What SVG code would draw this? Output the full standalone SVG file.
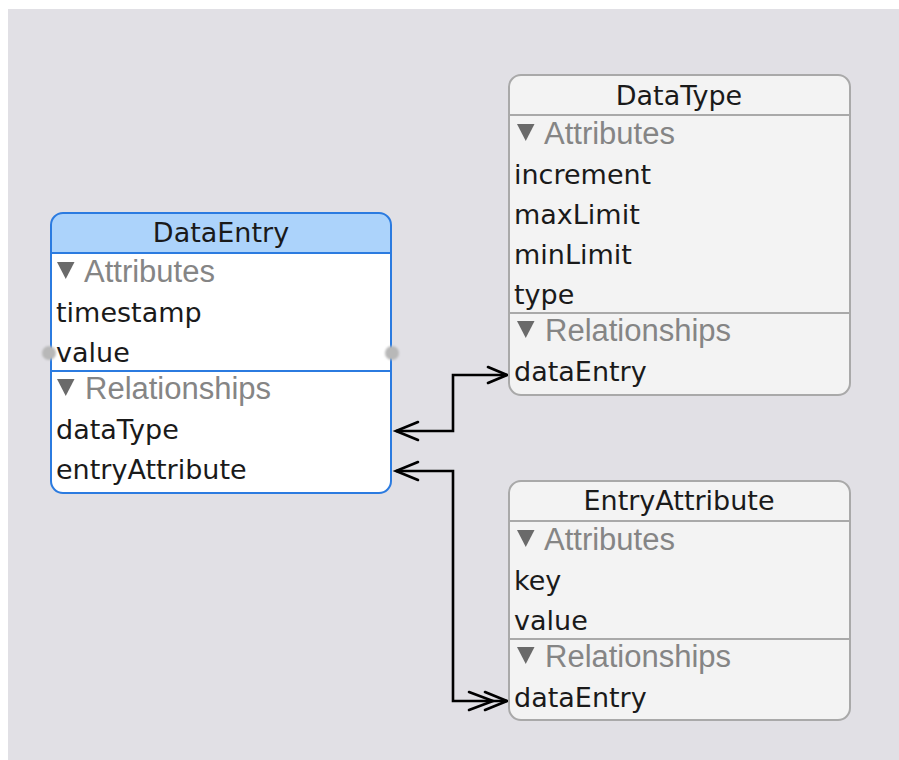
<svg xmlns="http://www.w3.org/2000/svg" width="899" height="760" viewBox="0 0 899 760">
  <defs>
    <style>
      .bg { fill: #e1e0e5; }
      .box { fill: #f3f3f3; stroke: #a9a9a9; stroke-width: 2; }
      .box-sel { fill: none; stroke: #2b7be0; stroke-width: 2; }
      .body-sel { fill: #ffffff; }
      .hdr-sel { fill: #acd3fb; }
      .rule { stroke: #a9a9a9; stroke-width: 2; }
      .rule-sel { stroke: #2b7be0; stroke-width: 2; }
      text { font-family: "DejaVu Sans", "Liberation Sans", sans-serif; font-size: 27px; fill: #1a1a1a; }
      .title { text-anchor: middle; }
      .section { font-family: "Liberation Sans", Arial, sans-serif; font-size: 31px; fill: #858585; }
      .tri { fill: #6a6a6a; }
      .handle { fill: #b8b8b8; }
      .wire { fill: none; stroke: #000000; stroke-width: 2.6; stroke-linejoin: miter; }
      .head { fill: none; stroke: #000000; stroke-width: 2.6; stroke-linecap: round; stroke-linejoin: miter; }
    </style>
    <filter id="soft" x="-50%" y="-50%" width="200%" height="200%">
      <feGaussianBlur stdDeviation="1.2"/>
    </filter>
  </defs>

  <!-- canvas -->
  <rect x="0" y="0" width="899" height="760" fill="#ffffff"/>
  <rect class="bg" x="8" y="9" width="891" height="751"/>

  <!-- relationship lines -->
  <g id="connectors">
    <!-- dataType <-> dataEntry -->
    <path class="wire" d="M396 431 H453 V375 H507"/>
    <path class="head" d="M418 422 L396 431 L418 440"/>
    <path class="head" d="M488 367 L507 375 L488 383"/>
    <!-- entryAttribute <->> dataEntry -->
    <path class="wire" d="M396 471 H453 V701 H507"/>
    <path class="head" d="M418 462 L396 471 L418 480"/>
    <path class="head" d="M469 692 L493 701 L469 710"/>
    <path class="head" d="M485 692 L507 701 L485 710"/>
  </g>

  <!-- DataEntry (selected) -->
  <g id="DataEntry">
    <rect class="body-sel" x="51" y="213" width="340" height="280" rx="12"/>
    <path class="hdr-sel" d="M63 213 H379 A12 12 0 0 1 391 225 V253 H51 V225 A12 12 0 0 1 63 213 Z"/>
    <rect class="box-sel" x="51" y="213" width="340" height="280" rx="12"/>
    <line class="rule-sel" x1="51" y1="253" x2="391" y2="253"/>
    <line class="rule-sel" x1="51" y1="371" x2="391" y2="371"/>
    <text class="title" x="221" y="242">DataEntry</text>
    <polygon class="tri" points="57,262 74.5,262 65.75,279"/>
    <text class="section" x="84" y="282">Attributes</text>
    <text x="56" y="322">timestamp</text>
    <text x="56" y="362">value</text>
    <polygon class="tri" points="57,379 74.5,379 65.75,396"/>
    <text class="section" x="85" y="399">Relationships</text>
    <text x="56" y="439">dataType</text>
    <text x="56" y="479">entryAttribute</text>
    <circle class="handle" cx="49" cy="353" r="7" filter="url(#soft)"/>
    <circle class="handle" cx="392" cy="353" r="7" filter="url(#soft)"/>
  </g>

  <!-- DataType -->
  <g id="DataType">
    <rect class="box" x="509" y="75" width="341" height="320" rx="12"/>
    <line class="rule" x1="509" y1="115" x2="850" y2="115"/>
    <line class="rule" x1="509" y1="313" x2="850" y2="313"/>
    <text class="title" x="679" y="105">DataType</text>
    <polygon class="tri" points="517,124 534.5,124 525.75,141"/>
    <text class="section" x="544" y="144">Attributes</text>
    <text x="514" y="184">increment</text>
    <text x="514" y="224">maxLimit</text>
    <text x="514" y="264">minLimit</text>
    <text x="514" y="304">type</text>
    <polygon class="tri" points="517,321 534.5,321 525.75,338"/>
    <text class="section" x="545" y="341">Relationships</text>
    <text x="514" y="381">dataEntry</text>
  </g>

  <!-- EntryAttribute -->
  <g id="EntryAttribute">
    <rect class="box" x="509" y="481" width="341" height="239" rx="12"/>
    <line class="rule" x1="509" y1="521" x2="850" y2="521"/>
    <line class="rule" x1="509" y1="639" x2="850" y2="639"/>
    <text class="title" x="679" y="510">EntryAttribute</text>
    <polygon class="tri" points="517,530 534.5,530 525.75,547"/>
    <text class="section" x="544" y="550">Attributes</text>
    <text x="514" y="590">key</text>
    <text x="514" y="630">value</text>
    <polygon class="tri" points="517,647 534.5,647 525.75,664"/>
    <text class="section" x="545" y="667">Relationships</text>
    <text x="514" y="707">dataEntry</text>
  </g>
</svg>
